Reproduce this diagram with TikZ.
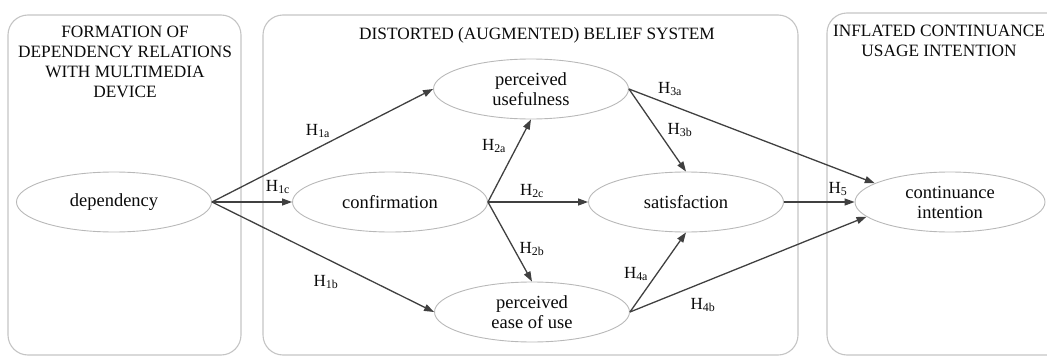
\documentclass[tikz,border=0pt]{standalone}
\usepackage{fontspec}
\setmainfont{Liberation Serif}
\usetikzlibrary{shapes.geometric,arrows.meta}
\definecolor{panelc}{HTML}{C4C4C4}
\definecolor{ellc}{HTML}{B8B8B8}
\definecolor{arrc}{HTML}{404040}
\definecolor{txtc}{HTML}{0A0A0A}
\tikzset{
  panel/.style={draw=panelc, line width=1.1pt, rounded corners=20pt},
  cons/.style={ellipse, draw=ellc, line width=0.9pt, minimum width=195pt, minimum height=60pt, inner sep=0pt, align=center, text=txtc, font=\fontsize{18.5}{20}\selectfont},
  ttl/.style={align=center, text=txtc, font=\fontsize{17.3}{20}\selectfont, inner sep=0pt},
  hyp/.style={arrc, line width=1.3pt, -{Triangle[length=10pt,width=7pt]}},
  hl/.style={text=txtc, font=\fontsize{17}{20}\selectfont, inner sep=0pt}
}
\begin{document}
\begin{tikzpicture}[x=1pt,y=-1pt]
\useasboundingbox (0,0) rectangle (1047,356);
\clip (0,0) rectangle (1047,356);
% panels
\draw[panel] (8,15) rectangle (241,355);
\draw[panel] (263,15) rectangle (798,355);
\draw[panel] (827,13) rectangle (1075,355);
% titles
\node[ttl, anchor=base] (t1) at (125,97) {FORMATION OF\\DEPENDENCY RELATIONS\\WITH MULTIMEDIA\\DEVICE};
\node[ttl, anchor=base] (t2) at (537,39) {DISTORTED (AUGMENTED) BELIEF SYSTEM};
\node[ttl, anchor=base] (t3) at (939,56) {INFLATED CONTINUANCE\\USAGE INTENTION};
% constructs
\node[cons] (dep) at (114,202) {dependency};
\node[cons] (conf) at (390,202) {confirmation};
\node[cons] (pu) at (531,89) {perceived\\usefulness};
\node[cons] (peou) at (532,312) {perceived\\ease of use};
\node[cons] (sat) at (686,202) {satisfaction};
\node[cons, minimum width=190pt] (ci) at (950,202) {continuance\\intention};
% arrows
\draw[hyp] (dep.east) -- (pu.west);
\draw[hyp] (dep.east) -- (conf.west);
\draw[hyp] (dep.east) -- (peou.west);
\draw[hyp] (conf.east) -- (pu.south);
\draw[hyp] (conf.east) -- (sat.west);
\draw[hyp] (conf.east) -- (peou.north);
\draw[hyp] (pu.east) -- (sat.north);
\draw[hyp] (pu.east) -- (ci.166);
\draw[hyp] (sat.east) -- (ci.west);
\draw[hyp] (peou.east) -- (sat.south);
\draw[hyp] (peou.east) -- (ci.190);
% labels
\node[hl] (h1a) at (318,131) {H\textsubscript{1a}};
\node[hl] (h1c) at (278,187) {H\textsubscript{1c}};
\node[hl] (h1b) at (326,282) {H\textsubscript{1b}};
\node[hl] (h2a) at (494,146) {H\textsubscript{2a}};
\node[hl] (h2c) at (532,191) {H\textsubscript{2c}};
\node[hl] (h2b) at (532,249) {H\textsubscript{2b}};
\node[hl] (h3a) at (670,89) {H\textsubscript{3a}};
\node[hl] (h3b) at (680,130) {H\textsubscript{3b}};
\node[hl] (h5) at (838,189) {H\textsubscript{5}};
\node[hl] (h4a) at (636,274) {H\textsubscript{4a}};
\node[hl] (h4b) at (703,305) {H\textsubscript{4b}};
\end{tikzpicture}
\end{document}
